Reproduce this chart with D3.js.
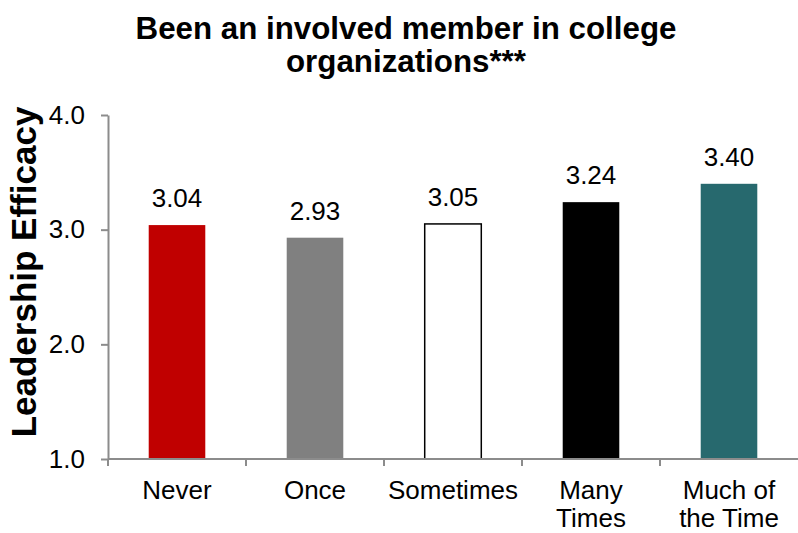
<!DOCTYPE html>
<html>
<head>
<meta charset="utf-8">
<script src="https://cdn.jsdelivr.net/npm/d3@7"></script>
<style>
  html, body { margin: 0; padding: 0; background: #fff; }
  svg { display: block; font-family: "Liberation Sans", Arial, sans-serif; }
</style>
</head>
<body>
<svg id="chart" width="798" height="533"></svg>
<script>
// Mean leadership efficacy by frequency of involvement in college organizations
const categories = ["Never", "Once", "Sometimes", "Many Times", "Much of the Time"];
const categoryLines = [["Never"], ["Once"], ["Sometimes"], ["Many", "Times"], ["Much of", "the Time"]];
const values = [3.04, 2.93, 3.05, 3.24, 3.40];
const yTicks = [1.0, 2.0, 3.0, 4.0];
const fills = ["#C00000", "#808080", "#FFFFFF", "#000000", "#27696E"];

const svg = d3.select("#chart");
const margin = { left: 108, right: 0, top: 115, bottom: 74 };
const width = 798, height = 533;
const fontFamily = "'Liberation Sans', Arial, sans-serif";

const x = d3.scaleBand()
  .domain(categories)
  .range([margin.left, width - margin.right])
  .paddingInner(0)
  .paddingOuter(0);

const y = d3.scaleLinear()
  .domain([1, 4])
  .range([height - margin.bottom, margin.top]);

const barW = x.bandwidth() * 0.41;
const axisColor = "#8c8c8c";

// Title
const title = svg.append("text")
  .attr("text-anchor", "middle")
  .style("font-weight", "bold")
  .style("font-size", "31.3px")
  .attr("fill", "#000");
title.append("tspan").attr("x", 406).attr("y", 39).text("Been an involved member in college");
title.append("tspan").attr("x", 406).attr("y", 72).text("organizations***");

// Y axis
const yAxis = svg.append("g")
  .attr("transform", `translate(${margin.left},0)`)
  .call(d3.axisLeft(y).tickValues(yTicks).tickFormat(d3.format(".1f")).tickSizeInner(7).tickSizeOuter(0).tickPadding(16));
yAxis.select(".domain").attr("stroke", axisColor).attr("stroke-width", 2);
yAxis.selectAll(".tick line").attr("stroke", axisColor).attr("stroke-width", 2);
yAxis.selectAll(".tick text")
  .attr("fill", "#000")
  .style("font-size", "26px")
  .style("font-family", fontFamily);

// Y axis title
svg.append("text")
  .attr("transform", `translate(36,${272}) rotate(-90)`)
  .attr("text-anchor", "middle")
  .style("font-weight", "bold")
  .style("font-size", "35px")
  .attr("fill", "#000")
  .text("Leadership Efficacy");

// Bars
svg.append("g").selectAll("rect")
  .data(values)
  .join("rect")
  .attr("x", (d, i) => x(categories[i]) + (x.bandwidth() - barW) / 2)
  .attr("y", d => y(d))
  .attr("width", barW)
  .attr("height", d => y(1) - y(d))
  .attr("fill", (d, i) => fills[i])
  .attr("stroke", (d, i) => fills[i] === "#FFFFFF" ? "#000" : "none")
  .attr("stroke-width", 1.5);

// Value labels
svg.append("g").selectAll("text")
  .data(values)
  .join("text")
  .attr("x", (d, i) => x(categories[i]) + x.bandwidth() / 2)
  .attr("y", d => y(d) - 18)
  .attr("text-anchor", "middle")
  .style("font-size", "26px")
  .attr("fill", "#000")
  .text(d => d.toFixed(2));

// X axis line and category separators
const xAxis = svg.append("g")
  .attr("transform", `translate(0,${y(1)})`);
xAxis.append("line")
  .attr("x1", margin.left).attr("x2", width - margin.right)
  .attr("stroke", axisColor).attr("stroke-width", 2);
xAxis.selectAll(".sep")
  .data(categories)
  .join("line")
  .attr("class", "sep")
  .attr("x1", d => x(d)).attr("x2", d => x(d))
  .attr("y1", 0).attr("y2", 7)
  .attr("stroke", axisColor).attr("stroke-width", 2);

// Category labels
const catText = xAxis.selectAll(".cat")
  .data(categories)
  .join("text")
  .attr("class", "cat")
  .attr("text-anchor", "middle")
  .style("font-size", "26px")
  .attr("fill", "#000");
catText.each(function (d, i) {
  const cx = x(d) + x.bandwidth() / 2;
  categoryLines[i].forEach((line, j) => {
    d3.select(this).append("tspan")
      .attr("x", cx)
      .attr("y", 40 + j * 28)
      .text(line);
  });
});
</script>
</body>
</html>
